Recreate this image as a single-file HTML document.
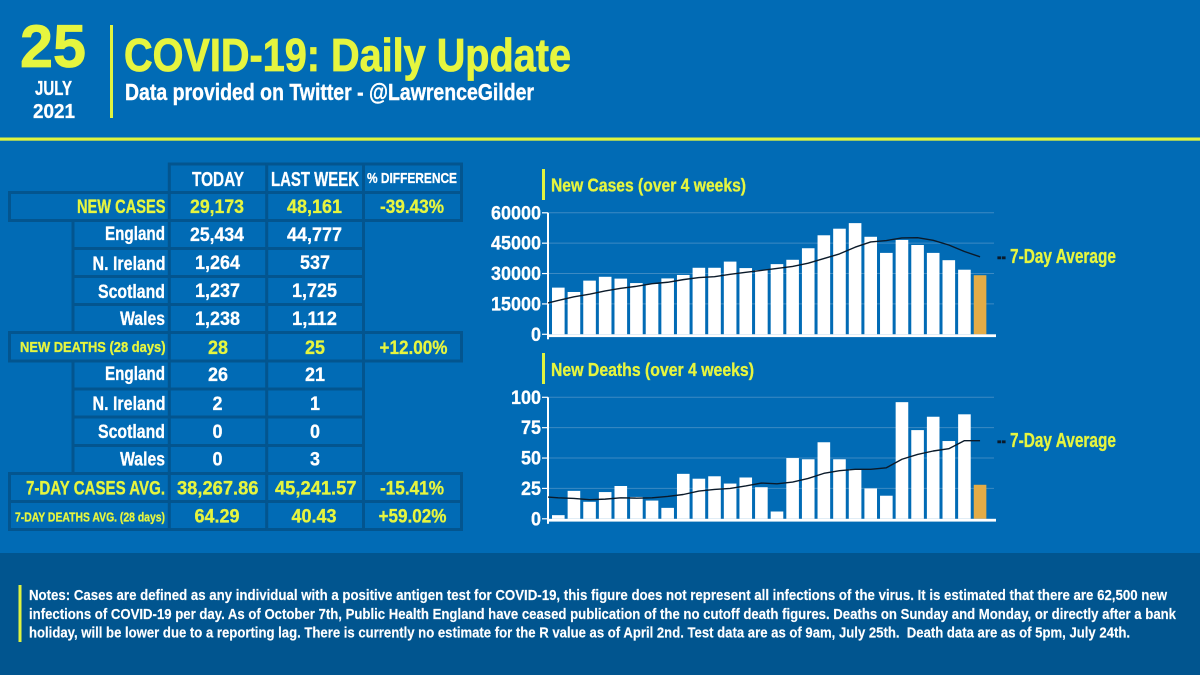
<!DOCTYPE html>
<html lang="en">
<head>
<meta charset="utf-8">
<title>COVID-19: Daily Update</title>
<style>
html,body{margin:0;padding:0;background:#016bb5;}
svg{display:block;}
text{font-family:"Liberation Sans",Arial,sans-serif;font-weight:700;}
.y{fill:#e6f53f;stroke:#e6f53f;stroke-width:.3px;}
.w{fill:#fff;stroke:#fff;stroke-width:.3px;}
.g{fill:#03558f;}
</style>
</head>
<body>
<svg id="root" xmlns="http://www.w3.org/2000/svg" width="1200" height="675" viewBox="0 0 1200 675">
<rect width="1200" height="675" fill="#016bb5"/>
<rect y="553" width="1200" height="122" fill="#01558f"/>

<g>
<text class="y" x="20" y="67" font-size="60" textLength="66" lengthAdjust="spacingAndGlyphs" style="stroke-width:.8px">25</text>
<text class="w" x="35" y="95" font-size="20" textLength="37" lengthAdjust="spacingAndGlyphs">JULY</text>
<text class="w" x="33" y="118" font-size="20" textLength="42" lengthAdjust="spacingAndGlyphs">2021</text>
<rect x="110" y="25" width="3" height="93" fill="#dff33f"/>
<text class="y" x="124" y="71" font-size="46" textLength="447" lengthAdjust="spacingAndGlyphs" style="stroke-width:.8px">COVID-19: Daily Update</text>
<text class="w" x="125" y="100" font-size="23" textLength="409" lengthAdjust="spacingAndGlyphs" style="stroke-width:.4px">Data provided on Twitter - @LawrenceGilder</text>
<rect y="137.5" width="1200" height="3.2" fill="#dff33f"/>
</g>

<g>
<rect class="g" x="168" y="162.5" width="295" height="3"/>
<rect class="g" x="8" y="191" width="455" height="3"/>
<rect class="g" x="8" y="219" width="455" height="3"/>
<rect class="g" x="72" y="247" width="293" height="3"/>
<rect class="g" x="72" y="275" width="293" height="3"/>
<rect class="g" x="72" y="303" width="293" height="3"/>
<rect class="g" x="8" y="331" width="455" height="3"/>
<rect class="g" x="8" y="359.500" width="455" height="3"/>
<rect class="g" x="72" y="387.500" width="293" height="3"/>
<rect class="g" x="72" y="415.500" width="293" height="3"/>
<rect class="g" x="72" y="444" width="293" height="3"/>
<rect class="g" x="8" y="472" width="455" height="3"/>
<rect class="g" x="8" y="500" width="455" height="3"/>
<rect class="g" x="8" y="528" width="455" height="3"/>
<rect class="g" x="8" y="191" width="3" height="31"/>
<rect class="g" x="8" y="331" width="3" height="31"/>
<rect class="g" x="8" y="472" width="3" height="59"/>
<rect class="g" x="71.500" y="219" width="3" height="115"/>
<rect class="g" x="71.500" y="359.500" width="3" height="115"/>
<rect class="g" x="167.800" y="162.500" width="3" height="368"/>
<rect class="g" x="265.200" y="162.500" width="3" height="368"/>
<rect class="g" x="362" y="162.500" width="3" height="368"/>
<rect class="g" x="460" y="162.500" width="3" height="59.500"/>
<rect class="g" x="460" y="331" width="3" height="31"/>
<rect class="g" x="460" y="472" width="3" height="59"/>
</g>

<g>
<text class="w" x="192" y="186" font-size="20" textLength="52" lengthAdjust="spacingAndGlyphs">TODAY</text>
<text class="w" x="271" y="186" font-size="20" textLength="88" lengthAdjust="spacingAndGlyphs">LAST WEEK</text>
<text class="w" x="367" y="183" font-size="14.500" textLength="90" lengthAdjust="spacingAndGlyphs">% DIFFERENCE</text>

<text class="y" x="77" y="213" font-size="19" textLength="88.500" lengthAdjust="spacingAndGlyphs">NEW CASES</text>
<text class="y" x="190" y="213" font-size="19.500" textLength="54" lengthAdjust="spacingAndGlyphs">29,173</text>
<text class="y" x="287" y="213" font-size="19.500" textLength="55" lengthAdjust="spacingAndGlyphs">48,161</text>
<text class="y" x="380" y="213" font-size="19.500" textLength="64" lengthAdjust="spacingAndGlyphs">-39.43%</text>

<text class="w" x="105" y="240" font-size="19" textLength="60" lengthAdjust="spacingAndGlyphs">England</text>
<text class="w" x="190" y="241" font-size="19.500" textLength="54" lengthAdjust="spacingAndGlyphs">25,434</text>
<text class="w" x="287" y="241" font-size="19.500" textLength="55" lengthAdjust="spacingAndGlyphs">44,777</text>

<text class="w" x="92.500" y="270" font-size="19" textLength="73" lengthAdjust="spacingAndGlyphs">N. Ireland</text>
<text class="w" x="195" y="269" font-size="19.500" textLength="45" lengthAdjust="spacingAndGlyphs">1,264</text>
<text class="w" x="300" y="269" font-size="19.500" textLength="30" lengthAdjust="spacingAndGlyphs">537</text>

<text class="w" x="98" y="298" font-size="19" textLength="67" lengthAdjust="spacingAndGlyphs">Scotland</text>
<text class="w" x="195" y="297" font-size="19.500" textLength="45" lengthAdjust="spacingAndGlyphs">1,237</text>
<text class="w" x="292" y="297" font-size="19.500" textLength="45" lengthAdjust="spacingAndGlyphs">1,725</text>

<text class="w" x="120" y="325" font-size="19" textLength="45" lengthAdjust="spacingAndGlyphs">Wales</text>
<text class="w" x="195" y="325" font-size="19.500" textLength="45" lengthAdjust="spacingAndGlyphs">1,238</text>
<text class="w" x="292" y="325" font-size="19.500" textLength="45" lengthAdjust="spacingAndGlyphs">1,112</text>

<text class="y" x="20" y="352" font-size="14.500" textLength="145.500" lengthAdjust="spacingAndGlyphs">NEW DEATHS (28 days)</text>
<text class="y" x="208" y="354" font-size="19.500" textLength="20" lengthAdjust="spacingAndGlyphs">28</text>
<text class="y" x="305" y="354" font-size="19.500" textLength="20" lengthAdjust="spacingAndGlyphs">25</text>
<text class="y" x="379.500" y="354" font-size="19.500" textLength="68" lengthAdjust="spacingAndGlyphs">+12.00%</text>

<text class="w" x="105" y="380" font-size="19" textLength="60" lengthAdjust="spacingAndGlyphs">England</text>
<text class="w" x="208" y="381" font-size="19.500" textLength="20" lengthAdjust="spacingAndGlyphs">26</text>
<text class="w" x="305" y="381" font-size="19.500" textLength="20" lengthAdjust="spacingAndGlyphs">21</text>

<text class="w" x="92.500" y="410" font-size="19" textLength="73" lengthAdjust="spacingAndGlyphs">N. Ireland</text>
<text class="w" x="212.500" y="410" font-size="19.500" textLength="10" lengthAdjust="spacingAndGlyphs">2</text>
<text class="w" x="310" y="410" font-size="19.500" textLength="10" lengthAdjust="spacingAndGlyphs">1</text>

<text class="w" x="98" y="438" font-size="19" textLength="67" lengthAdjust="spacingAndGlyphs">Scotland</text>
<text class="w" x="212.500" y="438" font-size="19.500" textLength="10" lengthAdjust="spacingAndGlyphs">0</text>
<text class="w" x="310" y="438" font-size="19.500" textLength="10" lengthAdjust="spacingAndGlyphs">0</text>

<text class="w" x="120" y="465.500" font-size="19" textLength="45" lengthAdjust="spacingAndGlyphs">Wales</text>
<text class="w" x="212.500" y="465.500" font-size="19.500" textLength="10" lengthAdjust="spacingAndGlyphs">0</text>
<text class="w" x="310" y="465.500" font-size="19.500" textLength="10" lengthAdjust="spacingAndGlyphs">3</text>

<text class="y" x="26" y="494.500" font-size="19.500" textLength="139" lengthAdjust="spacingAndGlyphs">7-DAY CASES AVG.</text>
<text class="y" x="177" y="494.500" font-size="19.500" textLength="81.500" lengthAdjust="spacingAndGlyphs">38,267.86</text>
<text class="y" x="275" y="494.500" font-size="19.500" textLength="81.500" lengthAdjust="spacingAndGlyphs">45,241.57</text>
<text class="y" x="380" y="494.500" font-size="19.500" textLength="64" lengthAdjust="spacingAndGlyphs">-15.41%</text>

<text class="y" x="15" y="521.500" font-size="12.500" textLength="150" lengthAdjust="spacingAndGlyphs">7-DAY DEATHS AVG. (28 days)</text>
<text class="y" x="194.500" y="522.500" font-size="19.500" textLength="45" lengthAdjust="spacingAndGlyphs">64.29</text>
<text class="y" x="291.500" y="522.500" font-size="19.500" textLength="45" lengthAdjust="spacingAndGlyphs">40.43</text>
<text class="y" x="378.500" y="522.500" font-size="19.500" textLength="68" lengthAdjust="spacingAndGlyphs">+59.02%</text>
</g>

<g>
<rect x="542" y="169" width="3" height="31" fill="#dff33f"/>
<text class="y" x="551" y="191.500" font-size="18" textLength="195" lengthAdjust="spacingAndGlyphs">New Cases (over 4 weeks)</text>
<text x="997" y="263" font-size="20" fill="#0a1a2a" stroke="#0a1a2a" stroke-width=".4" textLength="9" lengthAdjust="spacingAndGlyphs">--</text>
<text class="y" x="1010" y="263" font-size="20" textLength="106" lengthAdjust="spacingAndGlyphs">7-Day Average</text>
</g>
<g id="cases-chart"></g>

<g>
<rect x="542" y="353" width="3" height="31" fill="#dff33f"/>
<text class="y" x="551" y="376" font-size="18" textLength="203" lengthAdjust="spacingAndGlyphs">New Deaths (over 4 weeks)</text>
<text x="997" y="447" font-size="20" fill="#0a1a2a" stroke="#0a1a2a" stroke-width=".4" textLength="9" lengthAdjust="spacingAndGlyphs">--</text>
<text class="y" x="1010" y="447" font-size="20" textLength="106" lengthAdjust="spacingAndGlyphs">7-Day Average</text>
</g>
<g id="deaths-chart"></g>

<g>
<rect x="18.500" y="585" width="3" height="57" fill="#dff33f"/>
<text class="w" x="29" y="600" font-size="14.500" textLength="1138" lengthAdjust="spacingAndGlyphs" style="stroke-width:.15px">Notes: Cases are defined as any individual with a positive antigen test for COVID-19, this figure does not represent all infections of the virus. It is estimated that there are 62,500 new</text>
<text class="w" x="29" y="619" font-size="14.500" textLength="1147" lengthAdjust="spacingAndGlyphs" style="stroke-width:.15px">infections of COVID-19 per day. As of October 7th, Public Health England have ceased publication of the no cutoff death figures. Deaths on Sunday and Monday, or directly after a bank</text>
<text class="w" x="29" y="637.500" font-size="14.500" textLength="1101" lengthAdjust="spacingAndGlyphs" xml:space="preserve" style="stroke-width:.15px">holiday, will be lower due to a reporting lag. There is currently no estimate for the R value as of April 2nd. Test data are as of 9am, July 25th.  Death data are as of 5pm, July 24th.</text>
</g>
</svg>

<script>
var casesTicks = [0, 15000, 30000, 45000, 60000];
var casesValues = [23050, 20900, 26500, 28400, 27500, 25300, 24850, 27600, 29300, 32850, 32850, 35900, 32700, 31700, 34650, 36800, 42500, 48900, 52150, 54900, 48161, 40200, 46600, 44100, 40200, 36600, 31900, 29173];
var casesAverage = [16700, 18500, 19800, 21400, 22700, 23700, 25000, 25700, 27000, 28000, 28450, 29600, 30600, 31550, 32500, 33500, 35100, 37400, 39700, 43000, 45600, 46300, 47600, 47700, 46400, 44100, 40900, 38268];
var casesAverageStart = 15500;

var deathsTicks = [0, 25, 50, 75, 100];
var deathsValues = [3, 23, 14, 22, 27, 18, 15, 9, 37, 33, 35, 29, 34, 26, 6, 50, 49, 63, 49, 41, 25, 19, 96, 73, 84, 64, 86, 28];
var deathsAverage = [17.3, 16.8, 15.7, 16.2, 17.3, 17, 17.3, 18.4, 20, 22.8, 24.2, 25, 27, 29.4, 28.8, 30.2, 33.2, 37.4, 39.6, 40.7, 40.7, 42, 49, 53, 55.8, 57.7, 64.3, 64.29];
var deathsAverageStart = 17.9;

var SVGNS = 'http://www.w3.org/2000/svg';

function make(tag, parent) {
  var el = document.createElementNS(SVGNS, tag);
  parent.appendChild(el);
  return el;
}

function drawChart(group, prefix, ticks, values, average, averageStart, baseY, tickWidths) {
  var axisX = 548;
  var plotHeight = 121.5;
  var gridEnd = 994;
  var bandStart = 550.5;
  var step = 15.62;
  var barWidth = 12.6;
  var maxTick = ticks[ticks.length - 1];

  function yScale(v) { return baseY - (v / maxTick) * plotHeight; }
  function xBand(i) { return bandStart + i * step; }

  ticks.forEach(function (t, i) {
    var y = yScale(t);
    if (t !== 0) {
      var grid = make('line', group);
      
      
      grid.setAttribute('x1', axisX);
      grid.setAttribute('x2', gridEnd);
      grid.setAttribute('y1', y);
      grid.setAttribute('y2', y);
      grid.setAttribute('stroke', '#3c8ac3');
      grid.setAttribute('stroke-width', '1');
    }
    var mark = make('line', group);
    
    
    mark.setAttribute('x1', axisX - 6);
    mark.setAttribute('x2', axisX);
    mark.setAttribute('y1', y);
    mark.setAttribute('y2', y);
    mark.setAttribute('stroke', '#ffffff');
    mark.setAttribute('stroke-width', '1.2');
    var label = make('text', group);
    
    
    label.setAttribute('class', 'w');
    label.setAttribute('x', 541);
    label.setAttribute('y', y + 6.5);
    label.setAttribute('text-anchor', 'end');
    label.setAttribute('font-size', '19.5');
    label.setAttribute('textLength', String(t).length * tickWidths);
    label.setAttribute('lengthAdjust', 'spacingAndGlyphs');
    label.textContent = String(t);
  });

  values.forEach(function (v, i) {
    var bar = make('rect', group);
    
    
    bar.setAttribute('x', xBand(i) + (step - barWidth) / 2);
    bar.setAttribute('y', yScale(v));
    bar.setAttribute('width', barWidth);
    bar.setAttribute('height', baseY - yScale(v));
    bar.setAttribute('fill', i === values.length - 1 ? '#e3ac47' : '#ffffff');
  });

  var axisY = make('rect', group);
  
  
  axisY.setAttribute('x', axisX - 1);
  axisY.setAttribute('y', yScale(maxTick));
  axisY.setAttribute('width', 2);
  axisY.setAttribute('height', plotHeight + 5);
  axisY.setAttribute('fill', '#ffffff');

  var axisXLine = make('rect', group);
  
  
  axisXLine.setAttribute('x', axisX - 1);
  axisXLine.setAttribute('y', baseY);
  axisXLine.setAttribute('width', 997 - axisX);
  axisXLine.setAttribute('height', 2.8);
  axisXLine.setAttribute('fill', '#ffffff');

  var pts = [axisX + ',' + yScale(averageStart)];
  average.forEach(function (v, i) {
    pts.push((xBand(i) + step / 2) + ',' + yScale(v));
  });
  var line = make('polyline', group);
  
  
  line.setAttribute('points', pts.join(' '));
  line.setAttribute('fill', 'none');
  line.setAttribute('stroke', '#0a1a2a');
  line.setAttribute('stroke-width', '1.4');
  line.setAttribute('stroke-linejoin', 'round');
}

drawChart(document.getElementById('cases-chart'), 'cases', casesTicks, casesValues, casesAverage, casesAverageStart, 334.3, 10);
drawChart(document.getElementById('deaths-chart'), 'deaths', deathsTicks, deathsValues, deathsAverage, deathsAverageStart, 518.8, 10);
</script>
</body>
</html>
